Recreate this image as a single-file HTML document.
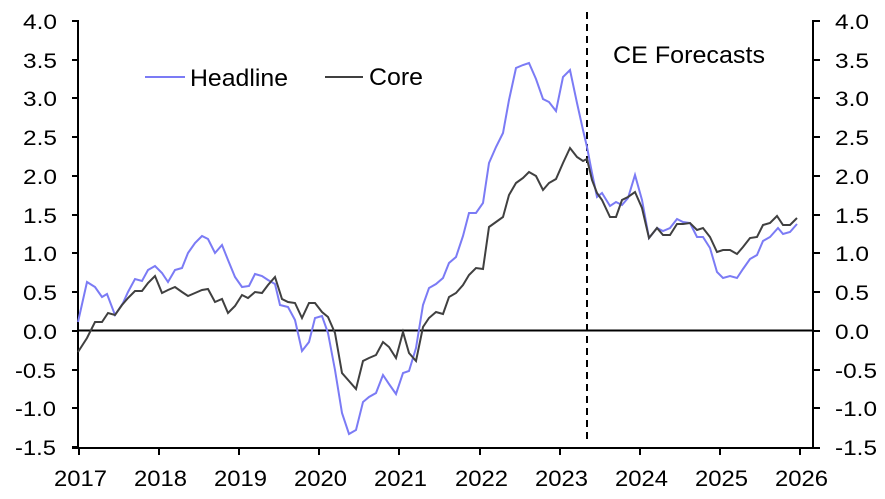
<!DOCTYPE html>
<html><head><meta charset="utf-8"><style>
body{margin:0;background:#fff}
svg{display:block;font-family:"Liberation Sans",Arial,sans-serif}
</style></head><body>
<svg width="885" height="499" xmlns="http://www.w3.org/2000/svg">
<g font-size="21" fill="#000">
<g text-anchor="end">
<text x="57" y="29" textLength="34" lengthAdjust="spacingAndGlyphs">4.0</text><text x="57" y="68" textLength="34" lengthAdjust="spacingAndGlyphs">3.5</text><text x="57" y="106" textLength="34" lengthAdjust="spacingAndGlyphs">3.0</text><text x="57" y="145" textLength="34" lengthAdjust="spacingAndGlyphs">2.5</text><text x="57" y="184" textLength="34" lengthAdjust="spacingAndGlyphs">2.0</text><text x="57" y="223" textLength="34" lengthAdjust="spacingAndGlyphs">1.5</text><text x="57" y="261" textLength="34" lengthAdjust="spacingAndGlyphs">1.0</text><text x="57" y="300" textLength="34" lengthAdjust="spacingAndGlyphs">0.5</text><text x="57" y="339" textLength="34" lengthAdjust="spacingAndGlyphs">0.0</text><text x="56" y="378" textLength="41" lengthAdjust="spacingAndGlyphs">-0.5</text><text x="56" y="416" textLength="41" lengthAdjust="spacingAndGlyphs">-1.0</text><text x="56" y="455" textLength="41" lengthAdjust="spacingAndGlyphs">-1.5</text>
</g>
<g text-anchor="start">
<text x="835" y="29" textLength="34" lengthAdjust="spacingAndGlyphs">4.0</text><text x="835" y="68" textLength="34" lengthAdjust="spacingAndGlyphs">3.5</text><text x="835" y="106" textLength="34" lengthAdjust="spacingAndGlyphs">3.0</text><text x="835" y="145" textLength="34" lengthAdjust="spacingAndGlyphs">2.5</text><text x="835" y="184" textLength="34" lengthAdjust="spacingAndGlyphs">2.0</text><text x="835" y="223" textLength="34" lengthAdjust="spacingAndGlyphs">1.5</text><text x="835" y="261" textLength="34" lengthAdjust="spacingAndGlyphs">1.0</text><text x="835" y="300" textLength="34" lengthAdjust="spacingAndGlyphs">0.5</text><text x="835" y="339" textLength="34" lengthAdjust="spacingAndGlyphs">0.0</text><text x="835" y="378" textLength="42" lengthAdjust="spacingAndGlyphs">-0.5</text><text x="835" y="416" textLength="42" lengthAdjust="spacingAndGlyphs">-1.0</text><text x="835" y="455" textLength="42" lengthAdjust="spacingAndGlyphs">-1.5</text>
</g>
<g font-size="22">
<text x="54" y="486" textLength="53" lengthAdjust="spacingAndGlyphs">2017</text><text x="134" y="486" textLength="53" lengthAdjust="spacingAndGlyphs">2018</text><text x="214" y="486" textLength="53" lengthAdjust="spacingAndGlyphs">2019</text><text x="294" y="486" textLength="53" lengthAdjust="spacingAndGlyphs">2020</text><text x="374" y="486" textLength="53" lengthAdjust="spacingAndGlyphs">2021</text><text x="455" y="486" textLength="53" lengthAdjust="spacingAndGlyphs">2022</text><text x="535" y="486" textLength="53" lengthAdjust="spacingAndGlyphs">2023</text><text x="615" y="486" textLength="53" lengthAdjust="spacingAndGlyphs">2024</text><text x="695" y="486" textLength="53" lengthAdjust="spacingAndGlyphs">2025</text><text x="775" y="486" textLength="53" lengthAdjust="spacingAndGlyphs">2026</text>
</g>
<g font-size="24">
<text x="190" y="86" textLength="98" lengthAdjust="spacingAndGlyphs">Headline</text>
<text x="369" y="85" textLength="54" lengthAdjust="spacingAndGlyphs">Core</text>
<text x="613" y="63" textLength="152" lengthAdjust="spacingAndGlyphs">CE Forecasts</text>
</g>
</g>
<line x1="145" y1="77" x2="185" y2="77" stroke="#7b7bf5" stroke-width="2"/>
<line x1="325" y1="77" x2="363" y2="77" stroke="#404040" stroke-width="2"/>
<g stroke="#000" stroke-width="2" fill="none">
<line x1="78" y1="20" x2="78" y2="448"/>
<line x1="813" y1="20" x2="813" y2="448"/>
<line x1="72" y1="448" x2="820" y2="448"/>
<line x1="78" y1="330.5" x2="813" y2="330.5"/>
<path d="M72 21H78M72 60H78M72 98H78M72 137H78M72 176H78M72 215H78M72 253H78M72 292H78M72 331H78M72 370H78M72 408H78M72 447H78"/>
<path d="M813 21H820M813 60H820M813 98H820M813 137H820M813 176H820M813 215H820M813 253H820M813 292H820M813 331H820M813 370H820M813 408H820"/>
<path d="M79 448V455M159 448V455M239 448V455M319 448V455M399 448V455M480 448V455M560 448V455M640 448V455M720 448V455M800 448V455"/>
<line x1="587" y1="12" x2="587" y2="442" stroke-dasharray="7,5"/>
</g>
<polyline fill="none" stroke="#7b7bf5" stroke-width="2" points="78,322 87,282 95,287 102,297 107,294 115,315 123,303 128,292 135,279 142,281 148,270 155,266 162,273 168,282 175,270 182,268 188,253 195,243 202,236 208,239 215,253 222,245 228,260 235,277 242,287 249,286 255,274 262,276 268,280 275,284 280,305 288,307 295,320 302,351 309,342 315,318 322,316 328,333 335,370 342,413 349,434 356,430 363,402 369,397 376,393 383,375 389,384 396,394 403,373 409,371 416,348 423,305 429,288 436,284 443,278 449,263 456,257 463,236 469,213 476,213 483,203 489,163 496,147 503,133 509,100 516,68 523,65 529,63 536,79 543,99 549,102 556,111 563,77 570,70 577,103 583,130 587,147 592,173 597,197 602,193 610,206 616,202 622,205 628,198 635,175 642,200 649,238 657,228 663,231 670,228 677,219 683,222 690,223 697,237 703,237 710,248 717,272 723,278 730,276 737,278 743,269 750,259 757,255 763,241 770,237 778,228 783,234 790,232 797,224"/>
<polyline fill="none" stroke="#404040" stroke-width="2" points="78,352 87,338 95,322 102,322 108,313 115,315 122,305 128,298 135,291 142,291 148,283 155,276 162,293 168,290 175,287 182,292 188,296 195,293 202,290 208,289 215,302 222,299 228,313 235,306 242,295 248,298 255,292 262,293 268,285 275,277 282,299 288,302 295,303 302,318 309,303 315,303 322,312 328,317 335,333 342,373 349,381 356,389 363,361 369,358 376,355 383,342 389,347 396,358 403,332 409,353 416,361 423,327 429,318 436,312 443,314 449,297 456,293 463,285 469,275 476,268 483,269 489,227 496,222 503,217 509,195 516,183 523,178 529,172 536,176 543,190 549,183 556,179 563,163 570,148 577,157 583,161 587,159 592,180 597,193 602,200 610,217 616,217 622,200 628,197 635,192 642,208 649,238 657,228 663,235 670,235 677,224 683,224 690,223 697,230 703,228 710,237 717,252 723,250 730,250 737,254 743,247 750,238 757,237 763,225 770,223 777,216 783,225 790,225 797,218"/>
</svg>
</body></html>
